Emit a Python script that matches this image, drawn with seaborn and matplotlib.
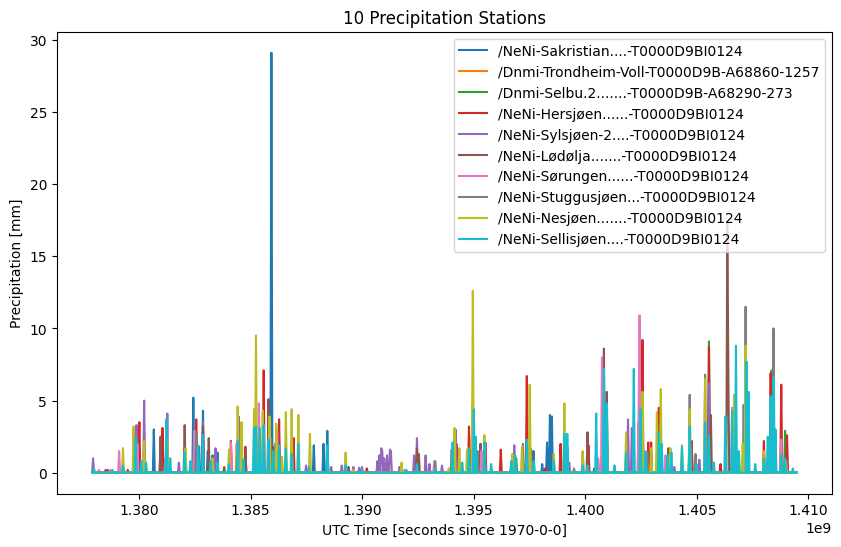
import numpy as np
import pandas as pd
import seaborn as sns
import matplotlib
matplotlib.use('Agg')
import matplotlib.pyplot as plt

# station names (legend)
stations = [
    '/NeNi-Sakristian....-T0000D9BI0124',
    '/Dnmi-Trondheim-Voll-T0000D9B-A68860-1257',
    '/Dnmi-Selbu.2.......-T0000D9B-A68290-273',
    '/NeNi-Hersjøen......-T0000D9BI0124',
    '/NeNi-Sylsjøen-2....-T0000D9BI0124',
    '/NeNi-Lødølja.......-T0000D9BI0124',
    '/NeNi-Sørungen......-T0000D9BI0124',
    '/NeNi-Stuggusjøen...-T0000D9BI0124',
    '/NeNi-Nesjøen.......-T0000D9BI0124',
    '/NeNi-Sellisjøen....-T0000D9BI0124',
]

# start / end of record [1e6 s since 1970], sample step [s]
t_start = 1377.9
t_end = 1409.5
step = 12 * 3600

# rain events per station: time [1e6 s] and precipitation [mm], dry otherwise
sakristian_t = [1380.67, 1382.42, 1382.70, 1382.86, 1383.10, 1383.30, 1383.50, 1385.94, 1387.83,
                1388.28, 1388.46, 1389.40, 1397.70, 1398.08, 1398.30, 1398.43, 1398.50, 1399.20,
                1400.40, 1406.60, 1408.10]
sakristian_v = [3.0, 5.2, 1.8, 4.3, 1.5, 1.2, 1.4, 29.1, 1.9,
                2.0, 2.9, 0.4, 1.5, 0.6, 2.1, 4.0, 3.9, 1.8,
                0.3, 0.5, 0.4]

trondheim_t = [1379.90, 1382.50, 1384.40, 1385.30, 1386.20, 1394.90, 1397.40, 1400.80, 1402.40,
               1405.50, 1407.20, 1408.40]
trondheim_v = [1.5, 1.8, 2.0, 2.5, 1.6, 2.5, 2.0, 3.0, 3.5,
               3.0, 3.0, 3.0]

selbu_t = [1380.00, 1382.50, 1385.20, 1386.20, 1395.30, 1396.90, 1397.45, 1400.70, 1402.50,
           1403.35, 1404.70, 1405.55, 1407.20, 1408.35, 1408.95]
selbu_v = [1.0, 1.2, 2.0, 1.5, 2.0, 1.0, 1.8, 1.0, 2.5,
           2.0, 2.5, 9.1, 3.5, 7.1, 2.9]

hersjoen_t = [1378.60, 1379.50, 1380.00, 1381.07, 1382.55, 1384.12, 1384.79, 1385.60, 1386.26,
              1386.95, 1390.20, 1394.25, 1394.80, 1395.52, 1396.20, 1396.70, 1397.40, 1398.20,
              1398.90, 1400.15, 1400.95, 1402.55, 1402.82, 1402.97, 1403.30, 1404.75, 1405.55,
              1406.05, 1408.00, 1408.32, 1408.77, 1409.05]
hersjoen_v = [0.2, 0.2, 3.5, 3.1, 3.7, 2.2, 1.8, 7.1, 3.7,
              2.4, 0.3, 2.0, 3.2, 2.1, 1.6, 0.8, 6.7, 0.3,
              2.0, 1.9, 2.5, 9.2, 2.1, 2.1, 4.5, 2.2, 8.7,
              0.6, 2.2, 6.9, 6.1, 2.6]

sylsjoen_t = [1377.95, 1379.90, 1380.22, 1380.98, 1381.25, 1381.78, 1382.86, 1383.45, 1384.45,
              1385.90, 1386.10, 1387.50, 1388.60, 1389.10, 1389.60, 1389.85, 1390.00, 1390.70,
              1390.78, 1390.85, 1390.92, 1391.00, 1391.10, 1391.23, 1391.30, 1391.70, 1392.35,
              1392.44, 1392.84, 1393.00, 1393.60, 1394.20, 1396.80, 1397.30, 1399.30, 1401.92,
              1402.10, 1404.00, 1405.10, 1405.55, 1406.60]
sylsjoen_v = [1.0, 3.3, 5.0, 2.1, 4.1, 0.7, 3.5, 1.7, 3.9,
              2.4, 2.0, 0.5, 0.4, 0.5, 0.4, 0.35, 0.4, 0.8,
              1.2, 1.7, 1.5, 1.0, 1.2, 1.6, 1.5, 0.4, 1.2,
              2.4, 1.2, 0.6, 0.5, 3.0, 1.9, 0.6, 0.7, 3.7,
              3.1, 0.4, 0.9, 6.2, 0.4]

lodolja_t = [1378.50, 1380.95, 1382.06, 1382.55, 1382.86, 1383.13, 1383.80, 1384.60, 1384.79,
             1385.82, 1386.00, 1389.40, 1392.47, 1392.55, 1394.98, 1395.30, 1397.60, 1400.10,
             1400.85, 1400.98, 1403.75, 1404.75, 1405.62, 1406.35, 1406.40, 1408.40]
lodolja_v = [0.2, 2.5, 3.3, 2.8, 3.2, 2.4, 0.4, 1.3, 1.5,
             5.1, 1.8, 0.3, 1.7, 1.3, 4.8, 2.0, 1.5, 2.8,
             8.6, 5.6, 1.7, 1.8, 4.0, 17.3, 7.9, 2.0]

sorungen_t = [1378.20, 1378.70, 1379.10, 1379.95, 1381.20, 1382.50, 1384.12, 1385.37, 1386.20,
              1388.50, 1391.90, 1393.25, 1395.35, 1399.90, 1400.60, 1400.76, 1402.38, 1402.42,
              1403.60, 1406.60, 1408.78]
sorungen_v = [0.2, 0.2, 1.5, 2.0, 1.0, 2.9, 2.1, 4.8, 2.9,
              0.3, 0.2, 0.8, 1.5, 1.4, 1.0, 8.0, 4.0, 10.9,
              1.2, 4.5, 2.3]

stuggusjoen_t = [1382.55, 1385.90, 1393.30, 1394.00, 1395.20, 1397.23, 1397.55, 1399.50, 1400.90,
                 1402.80, 1403.40, 1404.70, 1404.95, 1405.37, 1407.10, 1407.20, 1408.45]
stuggusjoen_v = [2.7, 2.0, 0.8, 1.6, 1.5, 2.0, 1.7, 0.3, 3.5,
                 1.4, 2.5, 5.4, 1.3, 6.8, 4.7, 11.5, 10.0]

nesjoen_t = [1379.30, 1379.77, 1380.22, 1381.25, 1382.10, 1383.30, 1384.03, 1384.43, 1384.60,
             1385.15, 1385.24, 1385.55, 1385.85, 1386.13, 1386.40, 1386.58, 1386.85, 1387.16,
             1387.65, 1389.26, 1389.60, 1391.75, 1393.90, 1394.14, 1394.35, 1394.70, 1394.98,
             1395.48, 1396.75, 1397.18, 1397.50, 1398.60, 1399.06, 1399.87, 1400.98, 1401.83,
             1402.55, 1402.95, 1403.20, 1403.40, 1403.80, 1404.34, 1404.70, 1405.37, 1406.67,
             1407.05, 1407.20, 1408.00, 1409.00]
nesjoen_v = [1.7, 3.2, 2.2, 2.3, 1.7, 1.0, 1.6, 4.6, 3.5,
             4.4, 9.5, 4.3, 3.9, 3.4, 1.1, 4.2, 4.4, 4.0,
             2.7, 1.4, 0.2, 0.7, 0.3, 3.1, 1.7, 1.6, 12.6,
             2.6, 1.3, 1.8, 6.1, 1.3, 4.8, 1.5, 2.2, 2.8,
             5.6, 1.7, 4.2, 5.8, 1.7, 1.9, 4.4, 6.5, 5.4,
             2.0, 8.8, 1.5, 0.8]

sellisjoen_t = [1378.00, 1378.80, 1379.30, 1379.85, 1380.10, 1380.30, 1381.21, 1381.40, 1382.06,
                1382.30, 1382.65, 1382.86, 1383.20, 1383.50, 1384.03, 1384.43, 1384.70, 1385.15,
                1385.24, 1385.40, 1385.60, 1385.82, 1386.00, 1386.26, 1386.58, 1386.85, 1387.16,
                1387.60, 1388.46, 1389.26, 1390.00, 1392.00, 1392.45, 1393.30, 1394.05, 1394.50,
                1394.80, 1394.99, 1395.10, 1395.48, 1395.80, 1396.70, 1396.85, 1397.40, 1397.70,
                1398.60, 1399.06, 1399.20, 1399.90, 1400.10, 1400.50, 1400.85, 1400.98, 1401.30,
                1401.83, 1402.20, 1402.50, 1402.70, 1403.30, 1403.45, 1403.70, 1403.85, 1404.34,
                1404.70, 1405.00, 1405.37, 1405.55, 1405.75, 1406.30, 1406.60, 1406.76, 1406.90,
                1407.25, 1407.30, 1407.60, 1408.00, 1408.20, 1408.32, 1408.45, 1408.55, 1408.77,
                1408.95, 1409.30]
sellisjoen_v = [0.3, 0.2, 0.5, 2.4, 0.8, 0.7, 3.7, 1.0, 1.4,
                0.8, 1.9, 2.6, 0.8, 0.7, 0.6, 2.2, 0.9, 3.1,
                3.2, 3.1, 3.3, 2.3, 1.5, 1.9, 1.7, 1.3, 2.0,
                0.4, 1.9, 0.5, 0.2, 0.2, 0.6, 0.3, 2.1, 0.7,
                1.7, 4.4, 2.5, 2.1, 0.6, 0.8, 1.2, 2.3, 0.8,
                0.8, 2.7, 2.7, 0.5, 0.5, 4.1, 7.2, 4.8, 0.5,
                1.4, 7.2, 4.4, 1.5, 2.8, 2.0, 1.2, 1.4, 1.8,
                3.2, 0.6, 3.5, 2.6, 0.7, 3.9, 4.3, 8.8, 1.5,
                7.7, 5.6, 0.6, 1.0, 2.5, 5.3, 6.6, 3.0, 1.2,
                1.0, 0.3]

events = [
    (sakristian_t, sakristian_v), (trondheim_t, trondheim_v), (selbu_t, selbu_v),
    (hersjoen_t, hersjoen_v), (sylsjoen_t, sylsjoen_v), (lodolja_t, lodolja_v),
    (sorungen_t, sorungen_v), (stuggusjoen_t, stuggusjoen_v), (nesjoen_t, nesjoen_v),
    (sellisjoen_t, sellisjoen_v),
]

# common time axis in seconds
time = np.arange(t_start * 1e6, t_end * 1e6, step)

colors = sns.color_palette('tab10', 10)

fig, ax = plt.subplots(figsize=(10, 6))

for name, (ts, vs), c in zip(stations, events, colors):
    precip = np.zeros(len(time))
    idx = np.rint((np.array(ts) * 1e6 - time[0]) / step).astype(int)
    precip[idx] = vs
    df = pd.DataFrame({'time': time, 'precip': precip})
    sns.lineplot(data=df, x='time', y='precip', color=c, label=name,
                 estimator=None, linewidth=1.5, ax=ax)

ax.set_title('10 Precipitation Stations')
ax.set_xlabel('UTC Time [seconds since 1970-0-0]')
ax.set_ylabel('Precipitation [mm]')
ax.legend(loc='upper right')

fig.savefig('out.png', dpi=100, bbox_inches='tight')
